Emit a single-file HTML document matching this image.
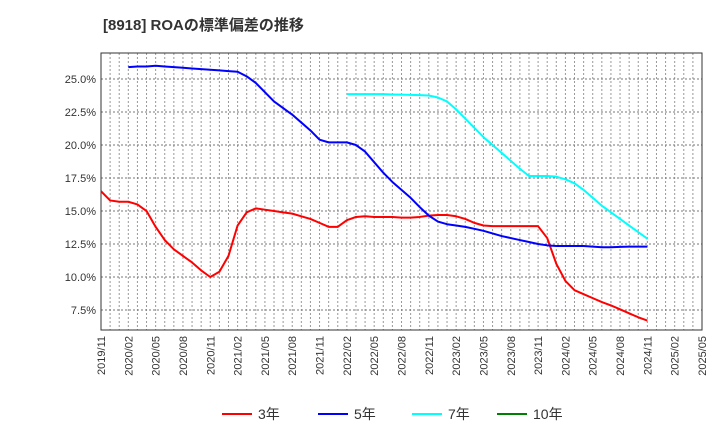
<!DOCTYPE html>
<html><head><meta charset="utf-8"><style>
body{margin:0;background:#fff;}
svg{font-family:"Liberation Sans","Noto Sans CJK JP",sans-serif;}
</style></head><body>
<svg id="chart" width="720" height="440" xmlns="http://www.w3.org/2000/svg">
<text x="103" y="30" font-size="15" font-weight="bold" fill="#333">[8918]  ROAの標準偏差の推移</text>
<g id="grid"></g><g id="axes"></g><g id="series"></g>
<g id="legend"></g>
</svg>
<script>
const xLabels=["2019/11","2020/02","2020/05","2020/08","2020/11","2021/02","2021/05","2021/08","2021/11","2022/02","2022/05","2022/08","2022/11","2023/02","2023/05","2023/08","2023/11","2024/02","2024/05","2024/08","2024/11","2025/02","2025/05"];
const yTicks=[7.5,10.0,12.5,15.0,17.5,20.0,22.5,25.0];
const s3Start=0;
const s3=[16.5,15.8,15.7,15.7,15.5,15.0,13.8,12.8,12.1,11.6,11.1,10.5,10.0,10.4,11.6,13.9,14.9,15.2,15.1,15.0,14.9,14.8,14.6,14.4,14.1,13.8,13.8,14.3,14.55,14.6,14.55,14.55,14.55,14.5,14.5,14.55,14.65,14.7,14.7,14.6,14.4,14.1,13.9,13.85,13.85,13.85,13.85,13.85,13.85,12.95,11.0,9.7,9.0,8.7,8.4,8.1,7.85,7.55,7.25,6.95,6.7];
const s5Start=3;
const s5=[25.9,25.95,25.95,26.0,25.95,25.9,25.85,25.8,25.75,25.7,25.65,25.6,25.55,25.2,24.7,24.0,23.3,22.8,22.3,21.7,21.1,20.4,20.2,20.2,20.2,20.0,19.5,18.7,17.9,17.2,16.6,16.0,15.3,14.65,14.2,14.0,13.9,13.8,13.65,13.5,13.3,13.1,12.95,12.8,12.65,12.5,12.4,12.35,12.35,12.35,12.35,12.3,12.25,12.25,12.28,12.3,12.3,12.3];
const s7Start=27;
const s7=[23.85,23.85,23.85,23.85,23.85,23.83,23.82,23.8,23.78,23.75,23.6,23.3,22.7,22.0,21.3,20.6,20.0,19.4,18.8,18.2,17.65,17.65,17.65,17.6,17.4,17.1,16.6,16.0,15.4,14.9,14.4,13.9,13.4,12.9];
const s10=[];
const L=101,R=702,T=53,B=330,yMin=5.985,yMax=26.97,nMonths=66;
const X=m=>L+(R-L)*m/nMonths;
const Y=v=>B-(B-T)*(v-yMin)/(yMax-yMin);
const NS="http://www.w3.org/2000/svg";
function mk(tag,attrs,parent){const e=document.createElementNS(NS,tag);for(const k in attrs)e.setAttribute(k,attrs[k]);parent.appendChild(e);return e;}
const grid=document.getElementById('grid'),axes=document.getElementById('axes'),series=document.getElementById('series'),legend=document.getElementById('legend');
for(let m=1;m<nMonths;m++){const l=mk('line',{x1:X(m),x2:X(m),y1:T,y2:B,stroke:'#999','stroke-dasharray':'2,2','stroke-width':1},grid);

}
yTicks.forEach(v=>{const l=mk('line',{x1:L,x2:R,y1:Y(v),y2:Y(v),stroke:'#777','stroke-dasharray':'2,2','stroke-width':1},grid);


const t=mk('text',{x:L-5,y:Y(v)+4,'font-size':11,'text-anchor':'end',fill:'#333'},axes);t.textContent=v.toFixed(1)+'%';

});
xLabels.forEach((s,i)=>{const x=X(i*3);const t=mk('text',{x:0,y:0,'font-size':11,'text-anchor':'end',fill:'#333',transform:`translate(${x+4},${B+6}) rotate(-90)`},axes);t.textContent=s;

});
const frame=mk('rect',{x:L,y:T,width:R-L,height:B-T,fill:'none',stroke:'#333','stroke-width':1},axes);


function line(arr,start,color,name){if(!arr.length)return;const p=mk('polyline',{points:arr.map((v,i)=>X(start+i)+','+Y(v)).join(' '),fill:'none',stroke:color,'stroke-width':2,'stroke-linejoin':'round'},series);

}
line(s3,s3Start,'#ff0000','series-3y');
line(s5,s5Start,'#0000ff','series-5y');
line(s7,s7Start,'#00ffff','series-7y');
line(s10,0,'#008000','series-10y');
[['3年','#ff0000',222],['5年','#0000ff',318],['7年','#00ffff',412],['10年','#008000',497]].forEach(([n,c,x])=>{
const l=mk('line',{x1:x,x2:x+30,y1:414,y2:414,stroke:c,'stroke-width':2},legend);


const t=mk('text',{x:x+36,y:419,'font-size':14,fill:'#333'},legend);t.textContent=n;

});
</script>
</body></html>
